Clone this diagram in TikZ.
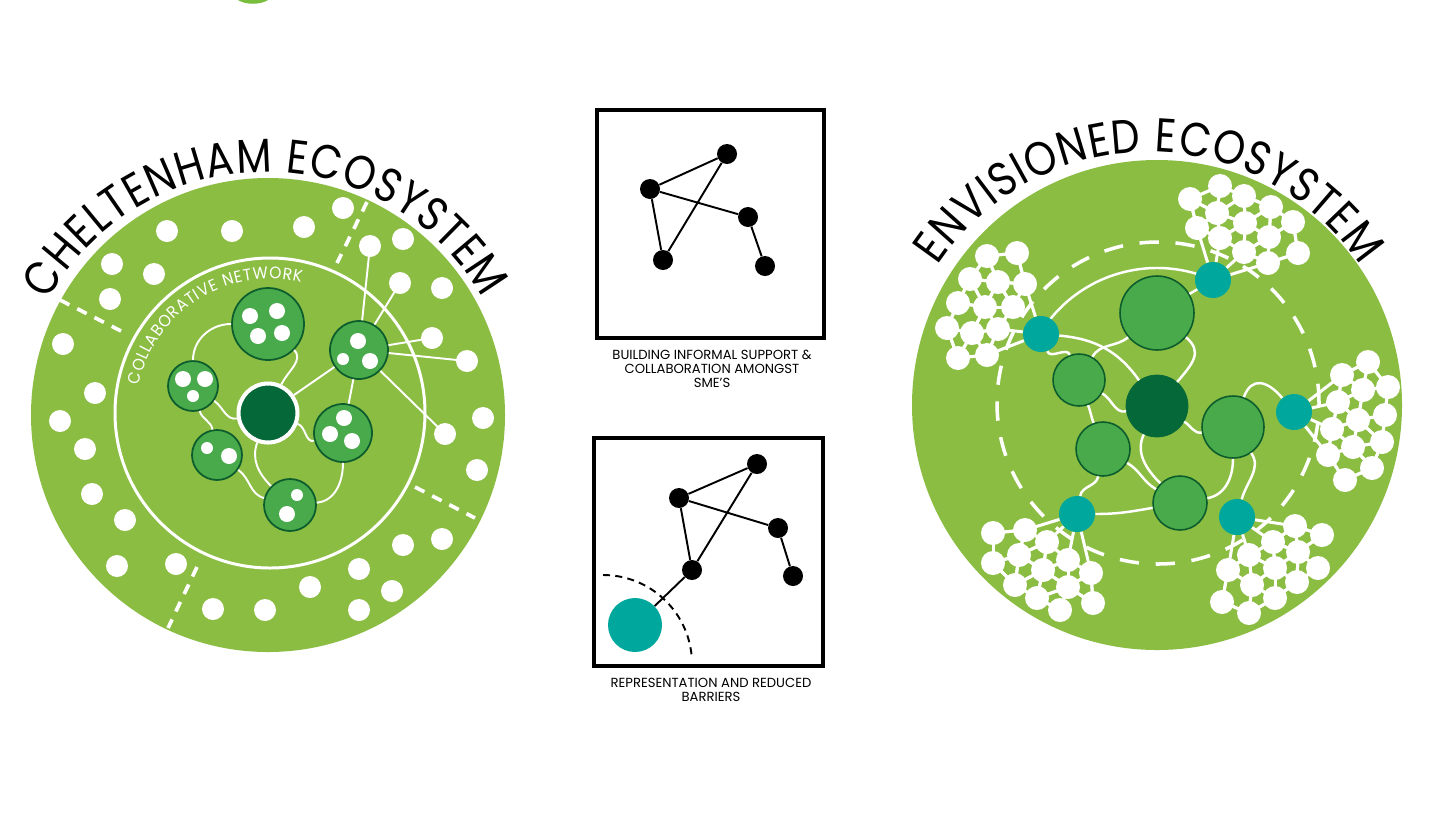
\documentclass[tikz,border=0pt]{standalone}
\usepackage{fontspec}
\setmainfont{Poppins}
\newfontfamily\titlefont[FakeStretch=0.86]{Poppins}
\newfontfamily\smallarcfont[FakeStretch=0.93]{Poppins}
\usetikzlibrary{decorations.text}
\definecolor{lg}{RGB}{139,189,67}
\definecolor{mg}{RGB}{72,170,74}
\definecolor{dg}{RGB}{4,104,56}
\definecolor{bd}{RGB}{12,92,45}
\definecolor{tl}{RGB}{0,167,157}
\definecolor{sliver}{RGB}{120,190,60}
\newcommand\mycluster[1]{%
  \foreach \ax/\ay in {#1}{%
    \foreach \bx/\by in {#1}{%
      \pgfmathsetmacro\dd{veclen(\ax-\bx,\ay-\by)}%
      \ifdim\dd pt<33pt\relax\ifdim\dd pt>1pt\relax
        \draw[cl] (\ax,-\ay) -- (\bx,-\by);
      \fi\fi
    }%
  }%
  \foreach \ax/\ay in {#1}{\fill[white] (\ax,-\ay) circle (12);}%
}
\begin{document}
\begin{tikzpicture}[x=0.02cm,y=0.02cm,
  wl/.style={white, line width=1.1pt},
  wl2/.style={white, line width=1.4pt},
  cl/.style={white, line width=1.7pt},
  rdash/.style={white, line width=2.1pt, dash pattern=on 6pt off 5pt},
  gn/.style={circle, fill=mg, draw=bd, line width=1pt, inner sep=0pt},
  tn/.style={circle, fill=tl, inner sep=0pt, minimum size=0.72cm},
  bn/.style={circle, fill=black, inner sep=0pt, minimum size=0.4cm},
  boxframe/.style={draw=black, line width=1.8pt},
  captext/.style={font=\fontsize{7.5}{8}\selectfont, align=center, text=black, inner sep=0pt},
  bl/.style={black, line width=1.1pt},
]
\fill[white] (0,0) rectangle (1456,-819);
\useasboundingbox (0,0) rectangle (1456,-819);

% top sliver
\fill[sliver] (238,0) .. controls (246,-5) and (260,-5) .. (268,0) -- cycle;

% ================= LEFT: CHELTENHAM ECOSYSTEM =================
\fill[lg] (268,-415) circle (237);
\draw[white, line width=1.7pt] (270,-413) circle (155);
\draw[rdash] (60,-300) -- (123,-332);
\draw[rdash] (367,-202) -- (337,-263);
\draw[rdash] (415,-487) -- (475,-518);
\draw[rdash] (197,-567) -- (168,-628);

\foreach \x/\y in {167/231, 232/231, 304/227, 343/208, 112/264, 154/274, 110/299,
  403/239, 442/288, 63/344, 95/393, 60/421, 85/449, 483/418, 92/494, 477/470,
  125/520, 117/566, 176/564, 403/545, 442/539, 359/569, 310/587, 392/591,
  213/609, 265/610, 359/610}
  {\fill[white] (\x,-\y) circle (11);}
\coordinate (o1) at (370,-246);
\coordinate (o2) at (400,-283);
\coordinate (o3) at (432,-338);
\coordinate (o4) at (467,-361);
\coordinate (o5) at (445,-434);
\foreach \c in {o1,o2,o3,o4,o5}{\fill[white] (\c) circle (11);}

\node[gn, minimum size=1.44cm] (T) at (268,-324) {};
\node[gn, minimum size=1.16cm] (UR) at (359,-350) {};
\node[gn, minimum size=1.0cm] (L) at (193,-386) {};
\node[gn, minimum size=1.16cm] (R) at (343,-433) {};
\node[gn, minimum size=1.0cm] (LL) at (217,-455) {};
\node[gn, minimum size=1.04cm] (B) at (290,-505) {};
\node[circle, fill=dg, draw=white, line width=2.3pt, inner sep=0pt, minimum size=1.18cm] (C) at (268,-413) {};

\draw[wl] (L) to[out=90,in=180] (T);
\draw[wl] (T) to[out=-45,in=65] (C);
\draw[wl] (L) to[out=-35,in=190] (C);
\draw[wl] (L) to[out=-75,in=100] (LL);
\draw[wl] (LL) to[out=-35,in=165] (B);
\draw[wl] (C) to[out=-110,in=135] (B);
\draw[wl] (R) to[out=-90,in=5] (B);
\draw[wl] (C) to[out=-20,in=195] (R);
\draw[wl] (C) -- (UR);
\draw[wl] (UR) -- (R);
\foreach \c in {o1,o2,o3,o4,o5}{\draw[wl] (UR) -- (\c);}

% dots inside network nodes
\foreach \x/\y/\r in {250/316/8, 277/311/8, 258/336/8, 282/333/8,
  358/341/8, 343/359/6, 370/361/8,
  183/379/8, 205/379/8, 193/396/6,
  344/418/8, 330/434/8, 352/441/8,
  207/448/6, 229/456/8,
  297/495/6, 287/514/8}
  {\fill[white] (\x,-\y) circle (\r);}

\path[decorate, decoration={text along path, text align=fit to path,
  text={|\color{white}\smallarcfont\fontsize{9.5}{9.5}\selectfont|COLLABORATIVE NETWORK}}]
  (270,-413) ++(168:134) arc[start angle=168, end angle=76.5, radius=134];
\path[decorate, decoration={text along path, text align=fit to path,
  text={|\titlefont\fontsize{27}{27}\selectfont|CHELTENHAM ECOSYSTEM}}]
  (266,-421) ++(151:249) arc[start angle=151, end angle=29.5, radius=249];

% ================= MIDDLE BOXES =================
\draw[boxframe] (597,-110) rectangle (824,-338);
\node[bn] (a1) at (727,-154) {};
\node[bn] (a2) at (650,-189) {};
\node[bn] (a3) at (748,-217) {};
\node[bn] (a4) at (663,-260) {};
\node[bn] (a5) at (765,-266) {};
\draw[bl] (a2) -- (a1);
\draw[bl] (a2) -- (a3);
\draw[bl] (a2) -- (a4);
\draw[bl] (a1) -- (a4);
\draw[bl] (a3) -- (a5);
\node[captext] (cap1) at (712,-369) {BUILDING INFORMAL SUPPORT \&\\COLLABORATION AMONGST\\SME’S};

\draw[boxframe] (594,-438) rectangle (823,-666);
\draw[black, line width=1.1pt, dash pattern=on 4pt off 3pt] (603,-575) arc[start angle=90, end angle=5, radius=89];
\node[bn] (b1) at (757,-464) {};
\node[bn] (b2) at (679,-498) {};
\node[bn] (b3) at (778,-528) {};
\node[bn] (b4) at (692,-570) {};
\node[bn] (b5) at (793,-576) {};
\node[circle, fill=tl, inner sep=0pt, minimum size=1.08cm] (bt) at (635,-625) {};
\draw[bl] (b2) -- (b1);
\draw[bl] (b2) -- (b3);
\draw[bl] (b2) -- (b4);
\draw[bl] (b1) -- (b4);
\draw[bl] (b3) -- (b5);
\draw[bl] (b4) -- (bt);
\node[captext] (cap2) at (711,-690) {REPRESENTATION AND REDUCED\\BARRIERS};

% ================= RIGHT: ENVISIONED ECOSYSTEM =================
\fill[lg] (1157,-405) circle (245);
\draw[white, line width=2pt, dash pattern=on 11pt off 9.5pt] (1158,-403) circle (161);
\draw[wl2] (1157,-405) ++(148.5:137) arc[start angle=148.5, end angle=66, radius=137];

\node[gn, line width=0.9pt, minimum size=1.48cm] (TG) at (1157,-313) {};
\node[gn, line width=0.9pt, minimum size=1.04cm] (UL) at (1079,-380) {};
\node[gn, line width=0.9pt, minimum size=1.08cm] (LG) at (1103,-449) {};
\node[gn, line width=0.9pt, minimum size=1.24cm] (RR) at (1233,-427) {};
\node[gn, line width=0.9pt, minimum size=1.08cm] (BB) at (1180,-503) {};
\node[circle, fill=dg, draw=dg, inner sep=0pt, minimum size=1.24cm] (CC) at (1157,-406) {};
\node[tn] (tUL) at (1041,-334) {};
\node[tn] (tT) at (1213,-280) {};
\node[tn] (tR) at (1294,-412) {};
\node[tn] (tBL) at (1077,-514) {};
\node[tn] (tBR) at (1237,-517) {};

\draw[wl2] (tUL) to[out=-5,in=125] (CC);
\draw[wl2] (tUL) to[out=-70,in=110] (UL);
\draw[wl2] (TG) to[out=-140,in=60] (UL);
\draw[wl2] (TG) to[out=-40,in=50,looseness=1.3] (CC);
\draw[wl2] (tT) -- (TG);
\draw[wl2] (UL) to[out=-30,in=190] (CC);
\draw[wl2] (UL) to[out=-70,in=110] (LG);
\draw[wl2] (CC) to[out=-115,in=135] (BB);
\draw[wl2] (LG) to[out=-30,in=150] (BB);
\draw[wl2] (CC) to[out=-30,in=190] (RR);
\draw[wl2] (RR) to[out=-90,in=10] (BB);
\draw[wl2] (RR) to[out=-55,in=75] (tBR);
\draw[wl2] (RR) to[out=70,in=130,looseness=1.5] (tR);
\draw[wl2] (LG) to[out=-100,in=80] (tBL);
\draw[wl2] (tBL) to[out=0,in=190] (BB);

% teal to clusters
\foreach \x/\y in {1025/284, 998/329, 987/355}{\draw[cl] (tUL) -- (\x,-\y);}
\foreach \x/\y in {1197/228, 1220/238, 1244/252, 1268/263}{\draw[cl] (tT) -- (\x,-\y);}
\foreach \x/\y in {1342/375, 1338/402, 1332/429, 1328/455}{\draw[cl] (tR) -- (\x,-\y);}
\foreach \x/\y in {1025/530, 1047/542, 1068/560, 1091/573}{\draw[cl] (tBL) -- (\x,-\y);}
\foreach \x/\y in {1295/526, 1273/542, 1249/555, 1228/570}{\draw[cl] (tBR) -- (\x,-\y);}

\mycluster{987/256, 1017/253, 970/279, 998/282, 1025/284, 958/303, 985/307, 1013/307, 947/328, 972/333, 998/329, 958/358, 987/355}
\mycluster{1220/186, 1190/199, 1244/196, 1217/213, 1271/207, 1197/228, 1245/223, 1293/222, 1220/238, 1269/237, 1244/252, 1298/253, 1268/263}
\mycluster{1368/362, 1342/375, 1388/387, 1363/390, 1338/402, 1385/415, 1358/420, 1332/429, 1382/442, 1353/447, 1328/455, 1372/468, 1345/480}
\mycluster{993/533, 1025/530, 1047/542, 1019/555, 993/563, 1043/570, 1068/560, 1015/585, 1091/573, 1068/587, 1037/598, 1093/603, 1060/610}
\mycluster{1295/526, 1322/535, 1273/542, 1249/555, 1298/552, 1318/568, 1275/568, 1228/570, 1297/582, 1252/585, 1222/602, 1275/598, 1249/613}

\path[decorate, decoration={text along path, text align=fit to path,
  text={|\titlefont\fontsize{27}{27}\selectfont|ENVISIONED ECOSYSTEM}}]
  (1149,-405) ++(146.5:253) arc[start angle=146.5, end angle=33.5, radius=253];
\end{tikzpicture}
\end{document}
